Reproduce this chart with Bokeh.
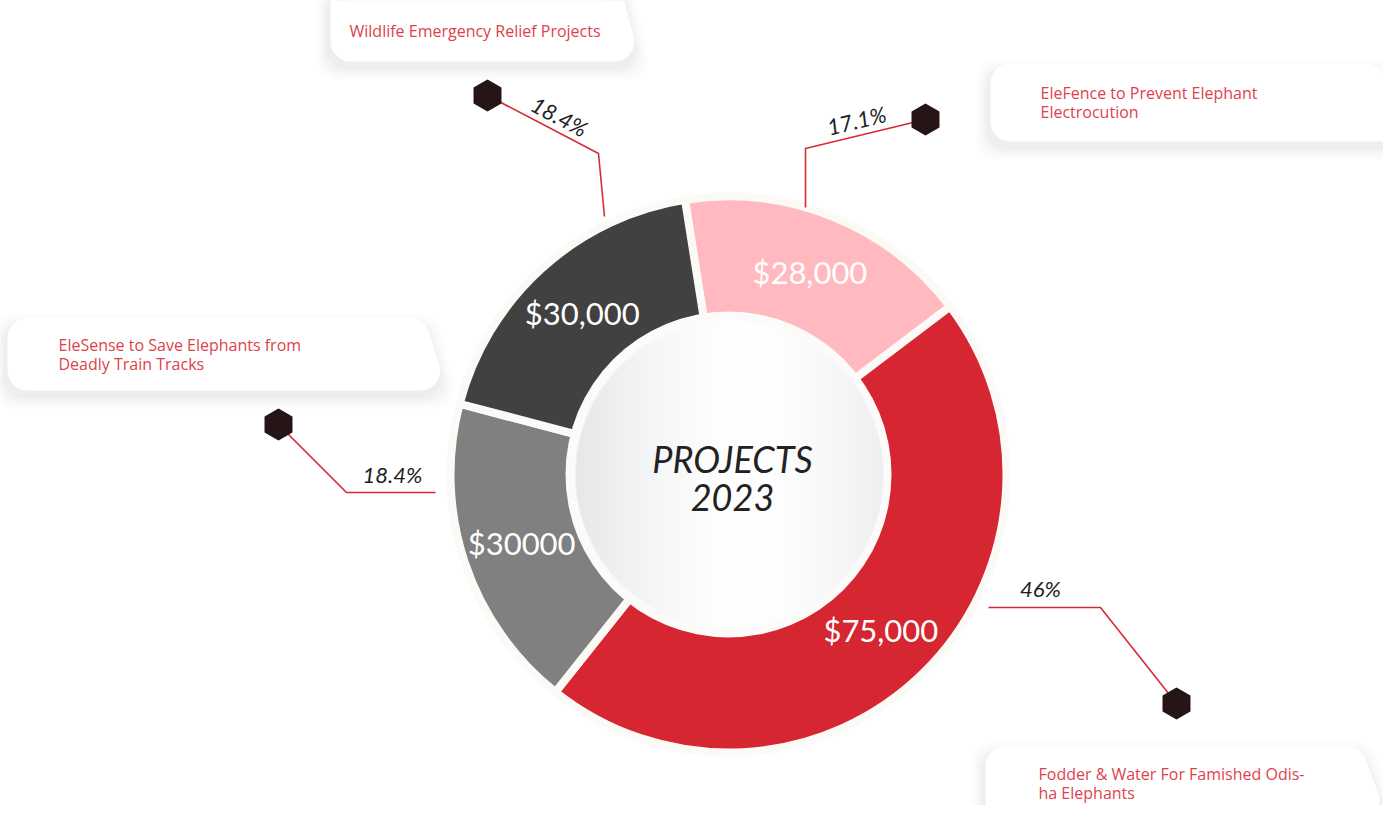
import numpy as np
from bokeh.plotting import figure
from bokeh.models import Range1d, ColumnDataSource
from bokeh.core.properties import value
from bokeh.embed import file_html
from bokeh.resources import INLINE

# ---------------- data ----------------
projects = [
    "EleFence to Prevent Elephant\nElectrocution",
    "Fodder & Water For Famished Odis-\nha Elephants",
    "EleSense to Save Elephants from\nDeadly Train Tracks",
    "Wildlife Emergency Relief Projects",
]
amounts = [28000, 75000, 30000, 30000]
amount_labels = ["$28,000", "$75,000", "$30000", "$30,000"]
pct_labels = ["17.1%", "46%", "18.4%", "18.4%"]
slice_colors = ["#ffb9bf", "#d52631", "#808080", "#414141"]
center_title = ["PROJECTS", "2023"]

# ---------------- layout (screen px) ----------------
FW, FH = 1383, 805
CX, CY = 728, 474          # donut centre (screen)
R_OUT, R_HOLE, R_INNER = 278, 163, 155
START_OFFSET = -9.0        # degrees clockwise from 12 o'clock

def Y(ys):
    return FH - ys

BOX_FONT = "Open Sans"
FONT = "Lato"
LABEL_RED = "#e03f4c"
LEADER_RED = "#d62a35"
HEX_COL = "#251517"

p = figure(width=FW, height=FH, x_range=Range1d(0, FW), y_range=Range1d(0, FH),
           output_backend="svg", toolbar_location=None, x_axis_type=None, y_axis_type=None,
           min_border=0, background_fill_color="white", border_fill_color="white")
p.grid.visible = False
p.outline_line_color = None

# ---------------- label boxes ----------------
def box_poly(left, top, bottom, rt, rb, r, grow=0.0, dy=0.0):
    left -= grow; top -= grow; bottom += grow; rt += grow; rb += grow
    slope = (rb - rt) / (bottom - top)
    shift = r * np.sqrt(1 + slope ** 2)
    t, b = top + r, bottom - r
    xt = rt + slope * (t - top) - shift
    xb = rt + slope * (b - top) - shift
    xs = [left + r, xt, xb, left + r]
    ys = [t, t, b, b]
    return xs, [Y(v + dy) for v in ys]

boxes = [  # left, top, bottom, right-top, right-bottom, text x, first line y (screen px)
    (990, 63, 141, 1378, 1418, 1040, 92),
    (985, 746, 820, 1360, 1388, 1038, 773),
    (7, 318, 390, 424, 447, 58, 344),
    (330, -20, 61, 618, 640, 349, 30),
]
RAD = 20
shadow_layers = [(12, "#fcfcfc"), (8, "#f8f8f8"), (5, "#f3f3f3"), (2, "#eeeeee")]
for (l, t, b, rt, rb, tx, ty), name in zip(boxes, projects):
    for g, c in shadow_layers:
        xs, ys = box_poly(l - 2, t + 2, b, rt, rb, RAD, grow=g, dy=6)
        p.patch(xs, ys, fill_color=c, line_color=c, line_width=2 * RAD, line_join="round")
for (l, t, b, rt, rb, tx, ty), name in zip(boxes, projects):
    xs, ys = box_poly(l, t, b, rt, rb, RAD)
    p.patch(xs, ys, fill_color="white", line_color="white", line_width=2 * RAD, line_join="round")
    for i, line in enumerate(name.split("\n")):
        p.text(x=[tx], y=[Y(ty + 19.5 * i)], text=[line], text_font=value(BOX_FONT),
               text_font_size="16px", text_color=LABEL_RED, text_align="left",
               text_baseline="middle")

# ---------------- donut ----------------
total = float(sum(amounts))
frac = np.array(amounts) / total
cum_end = START_OFFSET + 360 * np.cumsum(frac)
cum_start = cum_end - 360 * frac
mid = (cum_start + cum_end) / 2
src = ColumnDataSource(dict(
    x=[CX] * 4, y=[Y(CY)] * 4,
    start=np.radians(90 - cum_end), end=np.radians(90 - cum_start),
    color=slice_colors,
))
p.annular_wedge(x="x", y="y", inner_radius=140, outer_radius=R_OUT, start_angle="start",
                end_angle="end", fill_color="color", line_color="#fcfaf7", line_width=8,
                source=src)

# white ring + gradient centre disc
p.circle(x=[CX], y=[Y(CY)], radius=R_HOLE, fill_color="#fcfbf9", line_color=None)
n = 2 * R_INNER
xx, yy = np.meshgrid(np.linspace(-1, 1, n), np.linspace(-1, 1, n))
rr = np.sqrt(xx ** 2 + yy ** 2)
tt = np.clip(np.abs(xx - 0.12) / 1.12, 0, 1) ** 1.6
r_c = (255 - (255 - 229) * tt).astype(np.uint32)
g_c = (255 - (255 - 231) * tt).astype(np.uint32)
b_c = (255 - (255 - 233) * tt).astype(np.uint32)
alpha = (np.clip((1 - rr) * R_INNER, 0, 1) * 255).astype(np.uint32)
img = (alpha << 24) | (b_c << 16) | (g_c << 8) | r_c
p.image_rgba(image=[img], x=CX - R_INNER + 1, y=Y(CY) - R_INNER, dw=n, dh=n)

# amount labels inside slices
R_LAB = 218
lx = CX + R_LAB * np.sin(np.radians(mid))
ly = Y(CY) + R_LAB * np.cos(np.radians(mid))
p.text(x=lx, y=ly, text=amount_labels, text_font=value(FONT), text_font_size="31px",
       text_color="white", text_align="center", text_baseline="middle")

# centre title
for i, s in enumerate(center_title):
    p.text(x=[732], y=[Y(458 + 39 * i)], text=[s], text_font=value(FONT),
           text_font_size="36px", text_font_style="italic", text_color="#222222",
           text_align="center", text_baseline="middle")

# ---------------- leaders, hexagons, percentages ----------------
leaders = [  # screen coords, same order as the data
    [(925, 119), (805, 148), (805, 207)],
    [(988, 607), (1100, 607), (1176, 703)],
    [(278, 424), (346, 492), (435, 492)],
    [(487, 95), (598, 153), (604, 216)],
]
hex_at = [(925, 119), (1176, 703), (278, 424), (487, 95)]
pct_pos = [(856, 120, 13.7), (1040, 588, 0.0), (392, 474, 0.0), (559, 116, -28.0)]

for pts in leaders:
    p.line([q[0] for q in pts], [Y(q[1]) for q in pts], line_color=LEADER_RED, line_width=1.6)
p.scatter(x=[h[0] for h in hex_at], y=[Y(h[1]) for h in hex_at], marker="hex", size=30,
          angle=np.pi / 6, fill_color=HEX_COL, line_color=HEX_COL, line_width=2,
          line_join="round")
for (px, py, ang), s in zip(pct_pos, pct_labels):
    p.text(x=[px], y=[Y(py)], text=[s], angle=np.radians(ang), text_font=value(FONT),
           text_font_size="22px", text_font_style="italic", text_color="#1e1e1e",
           text_align="center", text_baseline="middle")

open("out.html", "w").write(file_html(p, INLINE))
